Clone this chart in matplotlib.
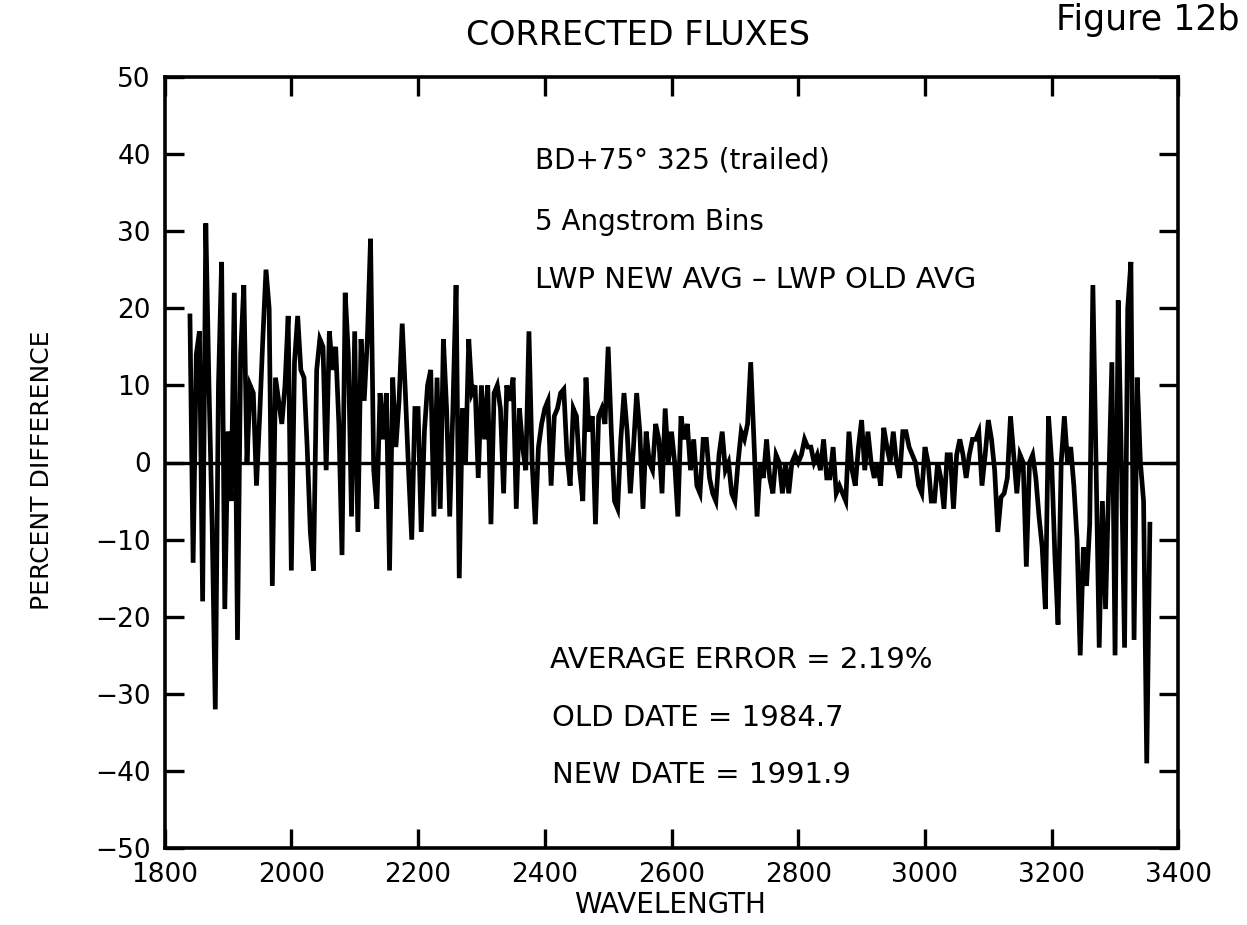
import matplotlib
matplotlib.use("Agg")
import matplotlib.pyplot as plt
import numpy as np

# ---------------- data ----------------
wl_start = 1840
wl_step = 5
percent_diff = [
    # 1840-1885
    19, -13, 14, 17, -18, 31, 10, -8, -32, 10,
    # 1890-1935
    26, -19, 4, -5, 22, -23, 14, 23, 0, 10,
    # 1940-1985
    9, -3, 6, 16, 25, 20, -16, 11, 8, 5,
    # 1990-2035
    10, 19, -14, 13, 19, 12, 11, 2, -9, -14,
    # 2040-2085
    12, 16, 15, -1, 17, 12, 15, 5, -12, 22,
    # 2090-2135
    14, -7, 17, -9, 16, 8, 16, 29, -1, -6,
    # 2140-2185
    9, 3, 9, -14, 11, 2, 8, 18, 9, -1,
    # 2190-2235
    -10, 7, 7, -9, 4, 10, 12, -7, 11, -6,
    # 2240-2285
    16, 7, -7, 7, 23, -15, 7, 0, 16, 9,
    # 2290-2335
    10, -2, 10, 3, 10, -8, 9, 10, 7, -4,
    # 2340-2385
    10, 8, 11, -6, 7, 2, -1, 17, 0, -8,
    # 2390-2435
    2, 5, 7, 8, -3, 6, 7, 9, 9.5, 1,
    # 2440-2485
    -3, 7, 6, -1, -5, 11, 4, 6, -8, 6,
    # 2490-2535
    7, 5, 15, 4, -5, -6, 3, 9, 4, -4,
    # 2540-2585
    2, 9, 4, -6, 4, 0, -1, 5, 3, -4,
    # 2590-2635
    7, 0, 4, 0, -7, 6, 3, 5, -1, 3,
    # 2640-2685
    -3, -4, 3, 3, -2, -4, -5, 1, 4, -1,
    # 2690-2735
    0, -4, -5, 0, 4, 3, 5, 13, 3, -7,
    # 2740-2785
    0, -2, 3, -2, -4, 1, 0, -4, 0, -4,
    # 2790-2835
    0, 1, 0, 1, 3, 2, 2, 0, 1, -1,
    # 2840-2885
    3, -2, -2, 2, -4, -3, -4, -5, 4, -1,
    # 2890-2935
    -3, 2, 5.5, -1, 4, 0, -2, 0, -3, 4.5,
    # 2940-2985
    2, 0, 4, 0, -2, 4, 4, 2, 1, 0,
    # 2990-3035
    -3, -4, 2, 0, -5, -5, 0, -2, -6, 1,
    # 3040-3085
    1, -6, 1, 3, 1, -2, 1, 3, 3, 4,
    # 3090-3135
    -3, 1, 5.5, 3, -1, -9, -4.5, -4, -2, 6,
    # 3140-3185
    1, -4, 1, 0, -13.5, 0, 1, -2, -7, -11,
    # 3190-3235
    -19, 6, 0, -12, -21, 0, 6, 0, 2, -3,
    # 3240-3285
    -10, -25, -11, -16, -8, 23, 0, -24, -5, -19,
    # 3290-3335
    -3, 13, -25, 21, 0, -24, 20, 26, -23, 11,
    # 3340-3355
    0, -5, -39, -8,
]
wavelength = [wl_start + wl_step * i for i in range(len(percent_diff))]

x_ticks = [1800, 2000, 2200, 2400, 2600, 2800, 3000, 3200, 3400]
y_ticks = [-50, -40, -30, -20, -10, 0, 10, 20, 30, 40, 50]

# ---------------- figure ----------------
plt.rcParams['font.family'] = ['DejaVu Sans']
fig = plt.figure(figsize=(12.47, 9.25), dpi=100)
ax = fig.add_axes([0.132, 0.083, 0.813, 0.834])

ax.plot(wavelength, percent_diff, color='black', lw=3.4, solid_joinstyle='miter')
ax.axhline(0, color='black', lw=2.4)

ax.set_xlim(1800, 3400)
ax.set_ylim(-50, 50)
ax.set_xticks(x_ticks)
ax.set_yticks(y_ticks)
ax.set_xticklabels([str(v) for v in x_ticks], fontsize=19)
ax.set_yticklabels([str(v).replace('-', '\u2212') for v in y_ticks], fontsize=19)
ax.tick_params(axis='both', direction='in', length=14, width=2.4,
               top=True, right=True, pad=10)
for s in ax.spines.values():
    s.set_linewidth(2.6)

# labels / title
fig.text(0.537, 0.022, 'WAVELENGTH', ha='center', va='center', fontsize=20)
fig.text(0.034, 0.492, 'PERCENT DIFFERENCE', ha='center', va='center',
         rotation=90, fontsize=18)
fig.text(0.512, 0.962, 'CORRECTED FLUXES', ha='center', va='center', fontsize=24)
fig.text(0.994, 0.978, 'Figure 12b', ha='right', va='center', fontsize=25)

# annotations
fig.text(0.429, 0.827, 'BD+75\u00b0 325 (trailed)', ha='left', va='center', fontsize=20)
fig.text(0.429, 0.760, '5 Angstrom Bins', ha='left', va='center', fontsize=20)
fig.text(0.429, 0.697, 'LWP NEW AVG \u2013 LWP OLD AVG', ha='left', va='center', fontsize=21)
fig.text(0.441, 0.286, 'AVERAGE ERROR = 2.19%', ha='left', va='center', fontsize=21)
fig.text(0.443, 0.224, 'OLD DATE = 1984.7', ha='left', va='center', fontsize=21)
fig.text(0.443, 0.162, 'NEW DATE = 1991.9', ha='left', va='center', fontsize=21)

fig.savefig('out.png', dpi=100)
